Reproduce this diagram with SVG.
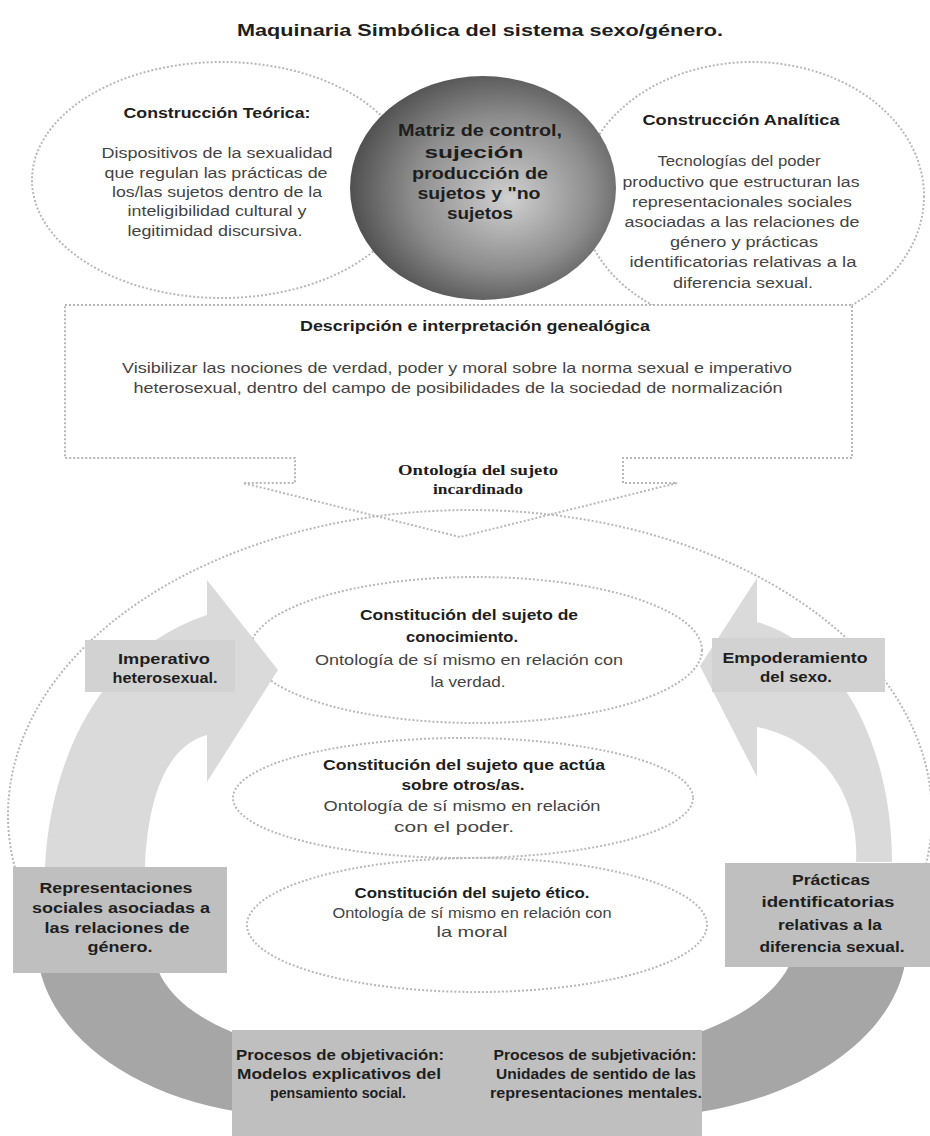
<svg xmlns="http://www.w3.org/2000/svg" width="930" height="1136" viewBox="0 0 930 1136">
<defs>
<radialGradient id="dark" cx="0.55" cy="0.5" r="0.62" fx="0.6" fy="0.55">
<stop offset="0" stop-color="#d0d0d0"/>
<stop offset="0.55" stop-color="#8c8c8c"/>
<stop offset="1" stop-color="#3e3e3e"/>
</radialGradient>
<style>
.dot{fill:none;stroke:#b8b8b8;stroke-width:2;stroke-dasharray:2 2}
.b{font-family:"Liberation Sans",Arial,sans-serif;font-weight:bold;fill:#1e1e1e;text-anchor:middle}
.r{font-family:"Liberation Sans",Arial,sans-serif;fill:#444;text-anchor:middle}
.s{font-family:"Liberation Serif","Times New Roman",serif;font-weight:bold;fill:#1e1e1e;text-anchor:middle}
</style>
</defs>
<rect width="930" height="1136" fill="#ffffff"/>

<text class="b" x="480" y="36" font-size="17" textLength="486" lengthAdjust="spacingAndGlyphs">Maquinaria Simbólica del sistema sexo/género.</text>

<g id="teorica">
<ellipse class="dot" cx="222" cy="180" rx="190" ry="118"/>
<text class="b" x="217" y="118" font-size="14" textLength="187" lengthAdjust="spacingAndGlyphs">Construcción Teórica:</text>
<g class="r" font-size="15.5">
<text x="217" y="158" textLength="231" lengthAdjust="spacingAndGlyphs">Dispositivos de la sexualidad</text>
<text x="216" y="178" textLength="223" lengthAdjust="spacingAndGlyphs">que regulan las prácticas de</text>
<text x="217" y="197" textLength="210" lengthAdjust="spacingAndGlyphs">los/las sujetos dentro de la</text>
<text x="217" y="216" textLength="179" lengthAdjust="spacingAndGlyphs">inteligibilidad cultural y</text>
<text x="215" y="236" textLength="175" lengthAdjust="spacingAndGlyphs">legitimidad discursiva.</text>
</g>
</g>

<g id="analitica">
<ellipse class="dot" cx="752" cy="196" rx="172" ry="134"/>
</g>

<g id="descripcion">
<path d="M65,305 H852 V458 H623 V483 H677 L460,537 L243,483 H295 V458 H65 Z" fill="#ffffff" stroke="#b8b8b8" stroke-width="2" stroke-dasharray="2 2"/>
<text class="b" x="475" y="331" font-size="15" textLength="350" lengthAdjust="spacingAndGlyphs">Descripción e interpretación genealógica</text>
<text class="r" x="457" y="373" font-size="14.5" textLength="670" lengthAdjust="spacingAndGlyphs">Visibilizar las nociones de verdad, poder y moral sobre la norma sexual e imperativo</text>
<text class="r" x="458" y="393" font-size="14.5" textLength="649" lengthAdjust="spacingAndGlyphs">heterosexual, dentro del campo de posibilidades de la sociedad de normalización</text>
<text class="s" x="478" y="475" font-size="14.5" textLength="160" lengthAdjust="spacingAndGlyphs">Ontología del sujeto</text>
<text class="s" x="478" y="494" font-size="14.5" textLength="90" lengthAdjust="spacingAndGlyphs">incardinado</text>
</g>

<g id="analitica-text">
<text class="b" x="741" y="125" font-size="14" textLength="197" lengthAdjust="spacingAndGlyphs">Construcción Analítica</text>
<g class="r" font-size="15.5">
<text x="739" y="166" textLength="163" lengthAdjust="spacingAndGlyphs">Tecnologías del poder</text>
<text x="741" y="187" textLength="237" lengthAdjust="spacingAndGlyphs">productivo que estructuran las</text>
<text x="742" y="207" textLength="220" lengthAdjust="spacingAndGlyphs">representacionales sociales</text>
<text x="742" y="227" textLength="235" lengthAdjust="spacingAndGlyphs">asociadas a las relaciones de</text>
<text x="744" y="247" textLength="148" lengthAdjust="spacingAndGlyphs">género y prácticas</text>
<text x="743" y="267" textLength="227" lengthAdjust="spacingAndGlyphs">identificatorias relativas a la</text>
<text x="743" y="288" textLength="140" lengthAdjust="spacingAndGlyphs">diferencia sexual.</text>
</g>
</g>

<g id="matriz">
<ellipse cx="483" cy="188" rx="133" ry="112" fill="url(#dark)"/>
<g class="b" font-size="16" fill="#111">
<text x="480" y="136" textLength="164" lengthAdjust="spacingAndGlyphs">Matriz de control,</text>
<text x="474" y="158" textLength="99" lengthAdjust="spacingAndGlyphs">sujeción</text>
<text x="480" y="179" textLength="136" lengthAdjust="spacingAndGlyphs">producción de</text>
<text x="479" y="199" textLength="123" lengthAdjust="spacingAndGlyphs">sujetos y "no</text>
<text x="480" y="219" textLength="66" lengthAdjust="spacingAndGlyphs">sujetos</text>
</g>
</g>

<g id="ciclo">
<ellipse class="dot" cx="470" cy="815" rx="462" ry="305"/>
</g>

<g id="conocimiento">
<ellipse class="dot" cx="476" cy="650" rx="226" ry="73"/>
<text class="b" x="469" y="620" font-size="14" textLength="218" lengthAdjust="spacingAndGlyphs">Constitución del sujeto de</text>
<text class="b" x="462" y="642" font-size="14" textLength="112" lengthAdjust="spacingAndGlyphs">conocimiento.</text>
<text class="r" x="469" y="665" font-size="15" textLength="308" lengthAdjust="spacingAndGlyphs">Ontología de sí mismo en relación con</text>
<text class="r" x="468" y="687" font-size="15" textLength="75" lengthAdjust="spacingAndGlyphs">la verdad.</text>
</g>

<g id="poder">
<ellipse class="dot" cx="463" cy="798" rx="230" ry="60"/>
<text class="b" x="464" y="770" font-size="14" textLength="282" lengthAdjust="spacingAndGlyphs">Constitución del sujeto que actúa</text>
<text class="b" x="463" y="790" font-size="14" textLength="123" lengthAdjust="spacingAndGlyphs">sobre otros/as.</text>
<text class="r" x="462" y="811" font-size="15.5" textLength="277" lengthAdjust="spacingAndGlyphs">Ontología de sí mismo en relación</text>
<text class="r" x="454" y="832" font-size="15.5" textLength="120" lengthAdjust="spacingAndGlyphs">con el poder.</text>
</g>

<g id="etico">
<ellipse class="dot" cx="477" cy="925" rx="230" ry="67"/>
<text class="b" x="472" y="898" font-size="14" textLength="235" lengthAdjust="spacingAndGlyphs">Constitución del sujeto ético.</text>
<text class="r" x="472" y="918" font-size="14.5" textLength="279" lengthAdjust="spacingAndGlyphs">Ontología de sí mismo en relación con</text>
<text class="r" x="472" y="937" font-size="14.5" textLength="71" lengthAdjust="spacingAndGlyphs">la moral</text>
</g>

<g id="connectors">
<path d="M45,867 C50,760 100,650 207,615 L207,580 L278,670 L207,782 L207,735 C170,745 148,790 145,867 Z" fill="#dadada"/>
<path d="M892,862 C892,760 850,650 757,622 L757,578 L700,666 L757,777 L757,727 C815,738 860,790 856,862 Z" fill="#dadada"/>
<path d="M40,970 C55,1035 130,1095 240,1112 L700,1112 C810,1095 892,1035 905,964 L790,964 C775,995 740,1017 700,1032 L232,1032 C195,1017 168,995 158,970 Z" fill="#a6a6a6"/>
</g>

<g id="imperativo">
<rect x="85" y="640" width="150" height="52" fill="#d2d2d2"/>
<text class="b" x="164" y="664" font-size="14" textLength="92" lengthAdjust="spacingAndGlyphs">Imperativo</text>
<text class="b" x="165" y="683" font-size="14" textLength="105" lengthAdjust="spacingAndGlyphs">heterosexual.</text>
</g>

<g id="empoderamiento">
<rect x="712" y="638" width="173" height="54" fill="#d2d2d2"/>
<text class="b" x="795" y="663" font-size="14" textLength="145" lengthAdjust="spacingAndGlyphs">Empoderamiento</text>
<text class="b" x="796" y="682" font-size="14" textLength="72" lengthAdjust="spacingAndGlyphs">del sexo.</text>
</g>

<g id="representaciones">
<rect x="13" y="867" width="214" height="106" fill="#bfbfbf"/>
<text class="b" x="116" y="893" font-size="14.5" textLength="153" lengthAdjust="spacingAndGlyphs">Representaciones</text>
<text class="b" x="121" y="913" font-size="14.5" textLength="178" lengthAdjust="spacingAndGlyphs">sociales asociadas a</text>
<text class="b" x="117" y="933" font-size="14.5" textLength="145" lengthAdjust="spacingAndGlyphs">las relaciones de</text>
<text class="b" x="120" y="952" font-size="14.5" textLength="65" lengthAdjust="spacingAndGlyphs">género.</text>
</g>

<g id="practicas">
<rect x="725" y="863" width="205" height="104" fill="#bfbfbf"/>
<text class="b" x="831" y="885" font-size="15.5" textLength="78" lengthAdjust="spacingAndGlyphs">Prácticas</text>
<text class="b" x="828" y="907" font-size="14.5" textLength="133" lengthAdjust="spacingAndGlyphs">identificatorias</text>
<text class="b" x="830" y="930" font-size="14.5" textLength="104" lengthAdjust="spacingAndGlyphs">relativas a la</text>
<text class="b" x="832" y="952" font-size="14.5" textLength="145" lengthAdjust="spacingAndGlyphs">diferencia sexual.</text>
</g>

<g id="procesos">
<rect x="232" y="1030" width="470" height="106" fill="#bfbfbf"/>
<g class="b" font-size="15">
<text x="340" y="1060" textLength="208" lengthAdjust="spacingAndGlyphs">Procesos de objetivación:</text>
<text x="339" y="1079" textLength="204" lengthAdjust="spacingAndGlyphs">Modelos explicativos del</text>
<text x="338" y="1098" textLength="136" lengthAdjust="spacingAndGlyphs">pensamiento social.</text>
<text x="595" y="1060" textLength="203" lengthAdjust="spacingAndGlyphs">Procesos de subjetivación:</text>
<text x="596" y="1079" textLength="200" lengthAdjust="spacingAndGlyphs">Unidades de sentido de las</text>
<text x="596" y="1098" textLength="212" lengthAdjust="spacingAndGlyphs">representaciones mentales.</text>
</g>
</g>
</svg>
